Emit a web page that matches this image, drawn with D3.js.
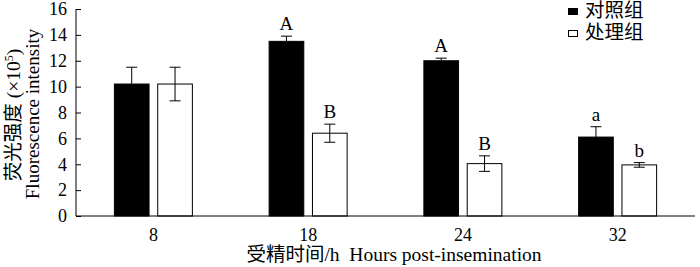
<!DOCTYPE html>
<html>
<head>
<meta charset="utf-8">
<script src="https://cdn.jsdelivr.net/npm/d3@7"></script>
<style>
  body { margin: 0; background: #fff; }
  svg { display: block; font-family: "Liberation Serif", "Noto Sans CJK SC", serif; }
</style>
</head>
<body>
<svg id="chart"></svg>
<script>
// data
const groups = ["8", "18", "24", "32"]
const series = ["对照组", "处理组"]
const control = [10.2, 13.5, 12.0, 6.1]
const controlErr = [1.3, 0.4, 0.2, 0.8]
const treated = [10.2, 6.4, 4.05, 3.95]
const treatedErr = [1.3, 0.7, 0.6, 0.18]
const controlSig = ["", "A", "A", "a"]
const treatedSig = ["", "B", "B", "b"]
const yTicks = [0, 2, 4, 6, 8, 10, 12, 14, 16]

const rows = groups.map((g, i) => ({
  group: g,
  bars: [
    {key: series[0], value: control[i], err: controlErr[i], sig: controlSig[i]},
    {key: series[1], value: treated[i], err: treatedErr[i], sig: treatedSig[i]}
  ]
}))

const svg = d3.select("#chart").attr("width", 700).attr("height", 267)

// plot area
const plot = {left: 76, right: 695, top: 9, bottom: 216}

const x0 = d3.scaleBand().domain(groups).range([plot.left, plot.right])
const x1 = d3.scaleBand().domain(series).range([0, 78]).paddingInner(0.2)
const y = d3.scaleLinear().domain([0, 16]).range([plot.bottom, plot.top])
const fill = d3.scaleOrdinal().domain(series).range(["#000", "#fff"])

// bars
const g = svg.append("g").selectAll("g")
  .data(rows)
  .enter().append("g")
  .attr("transform", d => "translate(" + (x0(d.group) + x0.bandwidth() / 2 - 39) + ",0)")

const bar = g.selectAll("g").data(d => d.bars).enter().append("g")

bar.append("rect")
  .attr("x", d => x1(d.key))
  .attr("y", d => y(d.value))
  .attr("width", x1.bandwidth())
  .attr("height", d => y(0) - y(d.value))
  .attr("fill", d => fill(d.key))
  .attr("stroke", "#000")
  .attr("stroke-width", 1)

// error bars
const cx = d => x1(d.key) + x1.bandwidth() / 2
bar.append("line")
  .attr("x1", cx).attr("x2", cx)
  .attr("y1", d => y(d.value + d.err))
  .attr("y2", d => y(d.value - d.err))
  .attr("stroke", "#000")
bar.append("line")
  .attr("x1", d => cx(d) - 5.5).attr("x2", d => cx(d) + 5.5)
  .attr("y1", d => y(d.value + d.err)).attr("y2", d => y(d.value + d.err))
  .attr("stroke", "#000")
bar.append("line")
  .attr("x1", d => cx(d) - 5.5).attr("x2", d => cx(d) + 5.5)
  .attr("y1", d => y(d.value - d.err)).attr("y2", d => y(d.value - d.err))
  .attr("stroke", "#000")

// significance letters
bar.append("text")
  .text(d => d.sig)
  .attr("x", cx)
  .attr("y", d => y(d.value + d.err) - 6)
  .attr("text-anchor", "middle")
  .attr("font-size", "19px")

// y axis, ticks pointing inward
const yAxis = svg.append("g")
  .attr("transform", "translate(" + plot.left + ",0)")
  .call(d3.axisLeft(y).tickValues(yTicks).tickSize(-5).tickPadding(9))
yAxis.select(".domain").attr("d", "M0," + plot.top + "V" + plot.bottom)
yAxis.attr("font-size", null).attr("font-family", null)
yAxis.selectAll(".tick text")
  .attr("font-size", "18px")
  .attr("fill", "#000")

// x axis
const xAxis = svg.append("g")
  .attr("transform", "translate(0," + plot.bottom + ")")
  .call(d3.axisBottom(x0).tickSize(0).tickPadding(12))
xAxis.select(".domain").attr("d", "M" + plot.left + ",0H" + plot.right)
xAxis.attr("font-size", null).attr("font-family", null)
xAxis.selectAll(".tick text")
  .attr("font-size", "18px")
  .attr("fill", "#000")

// axis titles
svg.append("text")
  .attr("x", 394)
  .attr("y", 261)
  .attr("text-anchor", "middle")
  .attr("font-size", "19.5px")
  .style("white-space", "pre")
  .text("受精时间/h  Hours post-insemination")

const yt = svg.append("text")
  .attr("transform", "translate(20,115) rotate(-90)")
  .attr("text-anchor", "middle")
  .attr("font-size", "19.5px")
yt.append("tspan").text("荧光强度 (×10")
yt.append("tspan").text("5").attr("font-size", "12px").attr("dy", "-7")
yt.append("tspan").text(")").attr("dy", "7")

svg.append("text")
  .attr("transform", "translate(39,114) rotate(-90)")
  .attr("text-anchor", "middle")
  .attr("font-size", "19px")
  .text("Fluorescence intensity")

// legend
const legend = svg.append("g").selectAll("g")
  .data(series)
  .enter().append("g")
  .attr("transform", (d, i) => "translate(568," + (i * 22) + ")")
legend.append("rect")
  .attr("x", 0.5).attr("y", 8.5)
  .attr("width", 9).attr("height", 6)
  .attr("fill", d => fill(d))
  .attr("stroke", "#000")
legend.append("text")
  .attr("x", 17).attr("y", 17)
  .attr("font-size", "19.5px")
  .text(d => d)
</script>
</body>
</html>
